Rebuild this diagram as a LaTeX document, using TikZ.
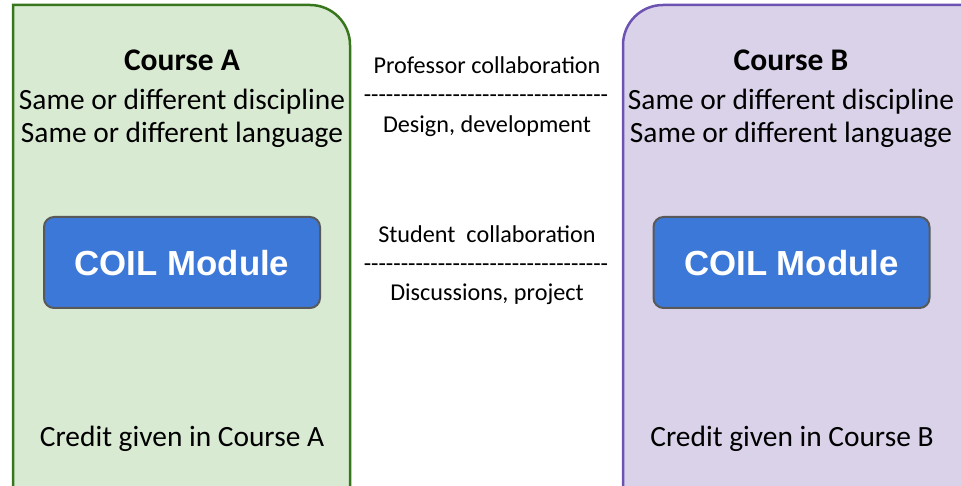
\documentclass[tikz,border=0pt]{standalone}
\usepackage{fontspec}
\setmainfont{Carlito}
\newfontfamily\coilfont{Liberation Sans}
\usetikzlibrary{positioning, calc}
\definecolor{greenfill}{RGB}{217,234,211}
\definecolor{greenline}{RGB}{56,118,29}
\definecolor{purplefill}{RGB}{217,210,233}
\definecolor{purpleline}{RGB}{108,82,177}
\definecolor{coilblue}{RGB}{60,120,216}
\definecolor{coilgray}{RGB}{89,89,89}
\newcommand{\sepdashes}{\foreach \k in {1,...,33}{-{}}}

\begin{document}
\begin{tikzpicture}[x=1pt,y=-1pt,
    coursetxt/.style={anchor=base,inner sep=0pt,font=\fontsize{29.4}{32}\selectfont},
    titletxt/.style={anchor=base,inner sep=0pt,font=\bfseries\fontsize{31.5}{34}\selectfont},
    midtxt/.style={anchor=base,inner sep=0pt,font=\fontsize{24.2}{28}\selectfont},
    coilbox/.style={draw=coilgray,line width=2pt,fill=coilblue,rounded corners=10pt,
        minimum width=276pt,minimum height=91pt,text=white,text depth=0pt,
        font=\coilfont\bfseries\fontsize{34.8}{40}\selectfont}]
        \useasboundingbox (0,0) rectangle (961,486);
        \clip (0,0) rectangle (961,486);
        % Course panels
        \draw[fill=greenfill,draw=greenline,line width=2.5pt] (13,520) -- (13,5) [rounded corners=40pt] -- (350,5) [sharp corners] -- (350,520);
        \draw[fill=purplefill,draw=purpleline,line width=2.5pt] (990,520) -- (990,5) [rounded corners=40pt] -- (623,5) [sharp corners] -- (623,520);
        % Course A
        \node[titletxt] (ca_title) at (182,71) {Course A};
        \node[coursetxt] (ca_disc) at (182,110) {Same or different discipline};
        \node[coursetxt] (ca_lang) at (182,143) {Same or different language};
        \node[coilbox] (ca_coil) at (182,262.5) {COIL Module};
        \node[coursetxt] (ca_credit) at (182,446) {Credit given in Course A};
        % Course B
        \node[titletxt] (cb_title) at (791,71) {Course B};
        \node[coursetxt] (cb_disc) at (791,110) {Same or different discipline};
        \node[coursetxt] (cb_lang) at (791,143) {Same or different language};
        \node[coilbox] (cb_coil) at (791.5,262.5) {COIL Module};
        \node[coursetxt] (cb_credit) at (792,446) {Credit given in Course B};
        % Collaboration
        \node[midtxt] (prof) at (487,74) {Professor collaboration};
        \node[midtxt] (prof_sep) at (486,103) {\sepdashes};
        \node[midtxt] (prof_what) at (487,133) {Design, development};
        \node[midtxt] (stud) at (487,243) {Student\ \ collaboration};
        \node[midtxt] (stud_sep) at (486,272) {\sepdashes};
        \node[midtxt] (stud_what) at (487,301) {Discussions, project};
\end{tikzpicture}
\end{document}
